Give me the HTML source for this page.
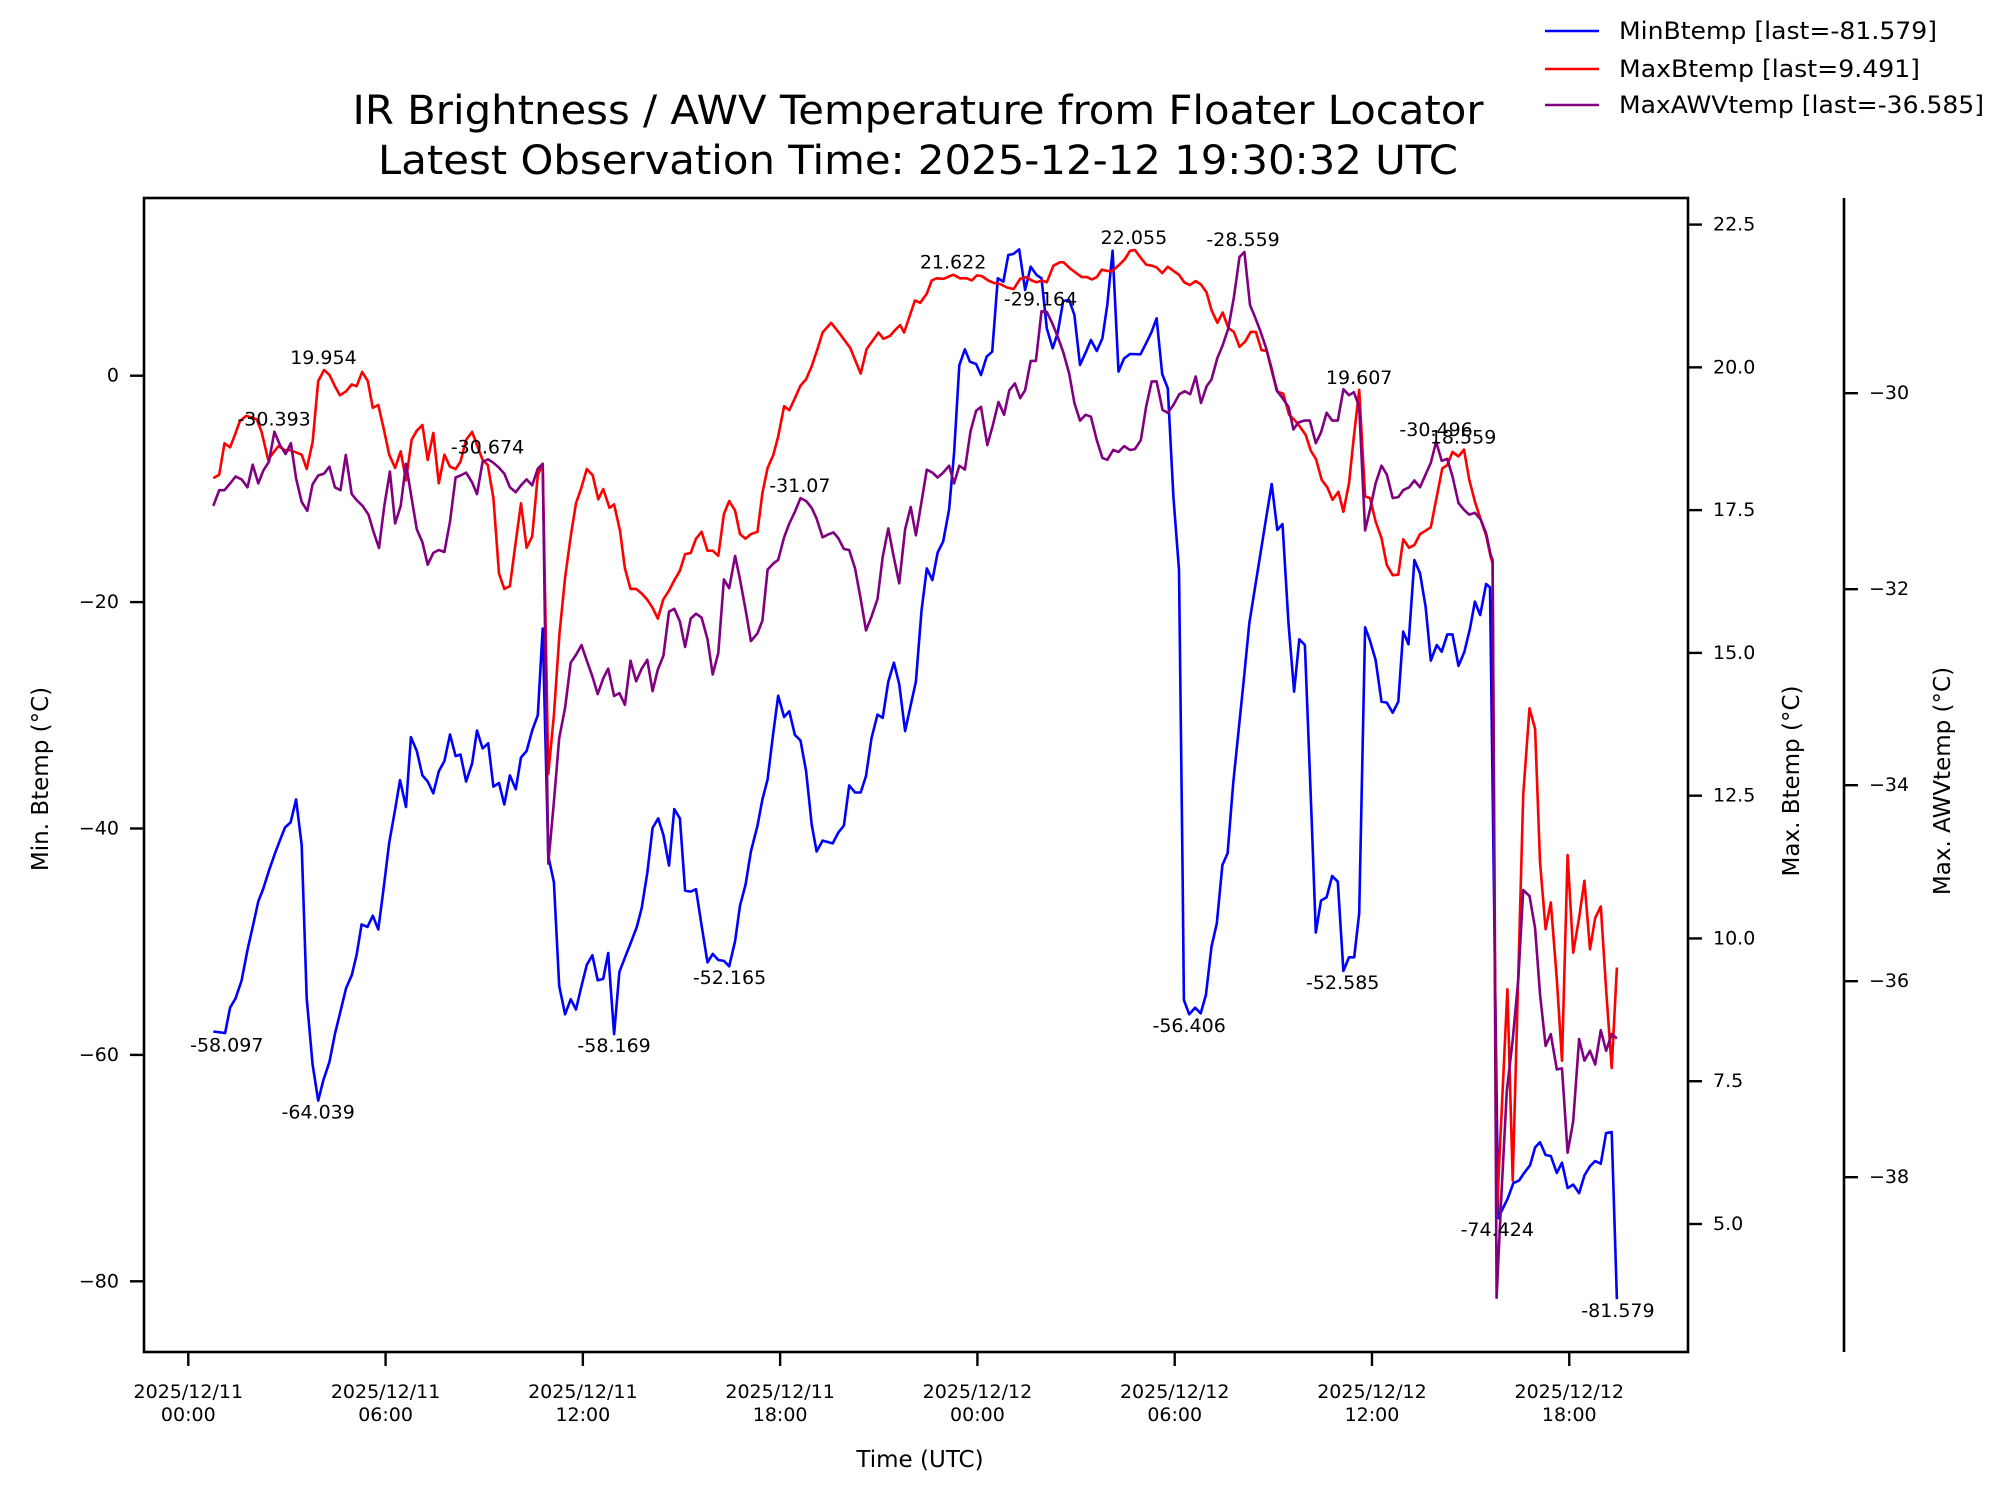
<!DOCTYPE html>
<html><head><meta charset="utf-8"><style>
html,body{margin:0;padding:0;background:#fff;}
svg{display:block;font-family:"DejaVu Sans","Liberation Sans",sans-serif;}
</style></head><body>
<svg id="chart" width="1998" height="1495" viewBox="0 0 1998 1495" xmlns="http://www.w3.org/2000/svg">
<rect x="0" y="0" width="1998" height="1495" fill="#fff"/>
<text x="918" y="124" font-size="40" text-anchor="middle" textLength="1131" lengthAdjust="spacingAndGlyphs">IR Brightness / AWV Temperature from Floater Locator</text>
<text x="918" y="174" font-size="40" text-anchor="middle" textLength="1080" lengthAdjust="spacingAndGlyphs">Latest Observation Time: 2025-12-12 19:30:32 UTC</text>
<g id="plot"></g>
<g id="axes"></g>
<g id="legend"></g>
</svg>
<script>
const minT=[0.76,1.12,1.27,1.44,1.62,1.80,1.96,2.13,2.28,2.45,2.64,2.79,2.94,3.11,3.28,3.45,3.60,3.78,3.95,4.11,4.29,4.46,4.61,4.80,4.97,5.12,5.27,5.45,5.61,5.78,5.95,6.11,6.29,6.44,6.62,6.77,6.95,7.12,7.28,7.45,7.62,7.79,7.96,8.13,8.28,8.45,8.63,8.78,8.95,9.12,9.28,9.45,9.61,9.78,9.96,10.12,10.29,10.46,10.63,10.78,
10.95,11.12,11.28,11.46,11.63,11.79,11.96,12.12,12.29,12.45,12.62,12.77,12.95,13.11,13.28,13.45,13.64,13.79,13.96,14.12,14.29,14.45,14.62,14.78,14.95,15.11,15.28,15.44,15.61,15.79,15.95,16.12,16.29,16.45,16.63,16.78,16.95,17.11,17.31,17.46,17.62,17.79,17.94,18.12,18.28,18.45,18.62,18.79,18.96,19.11,19.29,19.60,19.77,19.94,20.10,20.28,20.45,20.61,20.78,20.96,21.12,21.29,21.46,21.62,21.80,21.97,22.13,22.30,22.46,22.63,22.79,22.96,23.14,23.29,23.45,
23.62,23.77,23.96,24.11,24.28,24.45,24.62,24.79,24.94,25.09,25.27,25.45,25.62,25.80,25.95,26.11,26.29,26.44,26.61,26.79,26.95,27.12,27.29,27.45,27.63,27.80,27.95,28.11,28.29,28.46,
28.64,28.96,29.13,29.30,29.45,29.62,29.79,29.96,30.13,30.24,30.28,30.44,30.62,30.79,30.95,31.12,31.28,31.45,31.61,31.78,32.11,32.27,32.44,32.61,32.78,32.95,33.12,33.28,33.46,33.63,33.79,33.96,34.17,34.29,34.45,34.62,34.79,34.96,35.13,35.30,35.46,35.61,35.79,35.94,36.11,36.29,36.45,36.63,36.80,36.95,37.11,37.29,37.46,37.63,37.79,37.97,38.12,38.29,38.45,38.63,38.81,38.98,39.13,39.29,39.47,39.59,
39.84,40.13,40.30,40.47,40.63,40.81,40.96,41.11,41.28,41.44,41.62,41.78,41.95,42.12,42.30,42.46,42.63,42.79,42.96,43.12,43.29,43.45];
const minV=[-57.93,-58.07,-55.82,-55.00,-53.43,-50.72,-48.69,-46.44,-45.31,-43.74,-42.16,-41.03,-39.91,-39.46,-37.43,-41.48,-55.00,-60.86,-64.04,-62.22,-60.64,-58.16,-56.36,-54.10,-52.98,-51.17,-48.47,-48.69,-47.70,-48.92,-45.09,-41.26,-38.33,-35.72,-38.10,-31.93,-33.15,-35.31,-35.85,-36.89,-34.95,-34.05,-31.70,-33.60,-33.46,-35.85,-34.27,-31.34,-32.92,-32.47,-36.30,-35.98,-37.88,-35.31,-36.53,-33.73,-33.15,-31.34,-29.99,-22.33,
-42.45,-44.74,-53.91,-56.41,-55.08,-55.99,-53.91,-52.04,-51.20,-53.41,-53.29,-51.00,-58.17,-52.66,-51.41,-50.16,-48.70,-47.03,-43.91,-39.95,-39.11,-40.57,-43.28,-38.28,-39.11,-45.49,-45.57,-45.36,-48.58,-51.83,-51.08,-51.62,-51.70,-52.17,-49.95,-46.82,-44.95,-42.03,-39.74,-37.44,-35.65,-31.61,-28.27,-30.15,-29.65,-31.73,-32.23,-34.94,-39.65,-42.03,-41.07,-41.32,-40.36,-39.74,-36.19,-36.82,-36.82,-35.36,-32.02,-29.94,-30.23,-27.02,-25.35,-27.23,-31.40,-29.11,-27.02,-20.77,-17.02,-18.06,-15.64,-14.64,-11.81,-6.80,0.91,
2.33,1.24,1.03,0.06,1.68,2.12,8.60,8.31,10.66,10.75,11.16,7.57,9.63,8.90,8.60,4.18,2.42,3.74,6.60,6.69,5.36,0.95,2.03,3.15,2.18,3.30,6.26,11.04,0.36,1.53,
1.92,1.89,2.86,3.89,5.07,0.15,-1.12,-10.69,-17.16,-43.96,-55.15,-56.41,-55.83,-56.33,-54.71,-50.44,-48.38,-43.22,-42.19,-36.01,-26.59,-21.88,-18.78,-15.69,-12.60,-9.57,-13.63,-13.10,-21.88,-27.91,-23.29,-23.79,-39.54,-49.20,-46.37,-46.08,-44.20,-44.70,-52.59,-51.38,-51.38,-47.49,-22.23,-23.41,-25.11,-28.80,-28.88,-29.77,-28.80,-22.61,-23.73,-16.28,-17.46,-20.40,-25.17,-23.79,-24.38,-22.85,-22.85,-25.64,-24.38,-22.32,-19.96,-21.14,-18.40,-18.70,
-74.42,-72.67,-71.32,-71.10,-70.42,-69.74,-68.17,-67.71,-68.84,-68.93,-70.42,-69.52,-71.77,-71.46,-72.22,-70.65,-69.83,-69.38,-69.61,-66.90,-66.81,-81.579];

const maxT=[0.76,0.94,1.10,1.27,1.42,1.57,1.76,1.93,2.08,2.23,2.43,2.59,2.74,2.94,3.09,3.28,3.45,3.60,3.78,3.95,4.13,4.29,4.46,4.61,4.80,4.97,5.12,5.29,5.46,5.61,5.78,5.95,6.11,6.29,6.46,6.62,6.79,6.95,7.12,7.28,7.45,7.62,7.79,7.96,8.13,8.28,8.45,8.63,8.78,8.95,9.11,9.28,9.45,9.61,9.78,9.96,10.12,10.29,10.46,10.63,10.78,10.95,11.12,11.29,11.46,11.63,11.79,11.96,12.12,12.30,12.47,12.62,12.81,
12.95,13.13,13.28,13.45,13.62,13.79,13.96,14.12,14.28,14.45,14.62,14.78,14.95,15.11,15.28,15.44,15.61,15.79,15.95,16.12,16.29,16.45,16.63,16.78,16.95,17.11,17.31,17.46,17.62,17.79,17.94,18.12,18.28,18.45,18.62,18.79,18.96,19.13,19.29,19.55,19.80,20.13,20.45,20.63,20.99,21.14,21.34,21.49,
21.65,21.77,22.10,22.26,22.46,22.61,22.76,22.97,23.17,23.27,23.47,23.68,23.83,23.98,24.13,24.33,24.49,24.69,24.89,25.10,25.30,25.50,25.65,25.80,25.96,26.11,26.31,26.51,26.62,26.82,27.17,27.33,27.48,27.63,27.78,27.93,28.09,28.34,28.49,
28.64,28.79,28.94,29.13,29.30,29.45,29.62,29.79,29.96,30.13,30.29,30.46,30.64,30.80,30.97,31.12,31.30,31.46,31.63,31.80,31.97,32.14,32.31,32.47,32.64,32.80,32.97,33.13,33.30,33.48,33.64,33.81,33.98,34.14,34.30,34.47,34.64,34.80,34.98,35.13,35.30,35.45,35.61,35.79,35.94,36.11,36.29,36.45,36.63,36.80,36.95,37.13,37.29,37.46,37.63,37.79,37.97,38.14,38.29,38.45,38.63,38.80,38.96,39.13,39.31,39.47,39.61,39.67,
39.79,40.12,40.28,40.60,40.79,40.96,41.11,41.28,41.44,41.62,41.78,41.95,42.12,42.30,42.46,42.63,42.79,42.96,43.12,43.29,43.45];
const maxV=[18.06,18.12,18.67,18.60,18.82,19.06,19.15,19.12,19.09,18.87,18.38,18.51,18.62,18.55,18.55,18.51,18.47,18.22,18.69,19.76,19.954,19.87,19.67,19.51,19.58,19.70,19.67,19.92,19.76,19.29,19.34,18.91,18.47,18.24,18.53,18.02,18.73,18.89,18.99,18.38,18.85,17.97,18.47,18.26,18.22,18.35,18.73,18.87,18.64,18.38,18.29,17.71,16.39,16.12,16.17,16.95,17.62,16.84,17.04,18.11,18.31,12.88,13.91,15.34,16.32,17.04,17.62,17.90,18.22,18.11,17.69,17.87,17.54,
17.60,17.14,16.48,16.12,16.12,16.04,15.93,15.79,15.60,15.94,16.09,16.27,16.44,16.73,16.75,17.00,17.12,16.79,16.79,16.70,17.43,17.66,17.49,17.08,17.00,17.08,17.12,17.80,18.24,18.46,18.79,19.32,19.25,19.46,19.68,19.79,20.02,20.31,20.61,20.78,20.60,20.34,19.89,20.32,20.61,20.50,20.55,20.65,
20.74,20.61,21.17,21.13,21.29,21.52,21.56,21.55,21.60,21.622,21.56,21.56,21.52,21.61,21.60,21.52,21.48,21.46,21.40,21.37,21.55,21.58,21.52,21.49,21.52,21.49,21.78,21.84,21.84,21.73,21.58,21.58,21.54,21.58,21.71,21.69,21.68,21.81,21.90,
22.04,22.055,21.94,21.80,21.78,21.75,21.65,21.76,21.69,21.62,21.49,21.44,21.51,21.45,21.31,21.00,20.78,20.96,20.69,20.62,20.36,20.45,20.62,20.62,20.30,20.29,19.89,19.57,19.54,19.17,19.08,18.96,18.82,18.54,18.39,18.03,17.90,17.68,17.82,17.47,17.97,18.79,19.607,17.74,17.71,17.30,17.01,16.54,16.36,16.37,16.99,16.84,16.89,17.08,17.14,17.20,17.74,18.23,18.29,18.52,18.44,18.559,18.03,17.65,17.33,17.06,16.68,16.57,
5.09,9.11,5.76,12.51,14.03,13.67,11.34,10.16,10.63,9.29,7.86,11.46,9.75,10.36,11.01,9.81,10.36,10.56,9.11,7.73,9.491];

const awvT=[0.76,0.94,1.10,1.27,1.44,1.62,1.80,1.96,2.13,2.28,2.45,2.62,2.79,2.96,3.12,3.28,3.45,3.62,3.78,3.95,4.13,4.29,4.46,4.63,4.79,4.97,5.12,5.30,5.48,5.63,5.80,5.96,6.13,6.29,6.46,6.62,6.79,6.95,7.12,7.28,7.45,7.62,7.79,7.96,8.13,8.28,8.45,8.63,8.78,8.95,9.12,9.28,9.45,9.61,9.78,9.96,10.12,10.29,10.46,10.63,10.78,
10.95,11.12,11.28,11.46,11.63,11.79,11.96,12.12,12.29,12.45,12.62,12.77,12.95,13.11,13.28,13.45,13.62,13.79,13.96,14.12,14.28,14.45,14.62,14.78,14.95,15.11,15.28,15.44,15.61,15.79,15.95,16.12,16.29,16.45,16.63,16.78,16.95,17.11,17.31,17.46,17.62,17.79,17.94,18.12,18.28,18.45,18.62,18.79,18.96,19.11,19.29,19.47,19.62,19.77,19.94,20.10,20.28,20.45,20.61,20.78,20.96,21.12,21.29,21.46,21.62,21.80,21.97,22.13,22.30,22.46,22.63,22.79,22.96,23.14,23.29,23.45,23.62,23.79,23.96,24.11,
24.30,24.46,24.64,24.81,24.97,25.14,25.30,25.45,25.62,25.78,25.95,26.11,26.28,26.44,26.61,26.79,26.95,27.12,27.29,27.45,27.63,27.80,27.95,28.13,28.29,28.46,28.64,28.79,28.97,29.13,29.30,29.45,29.63,29.79,29.96,30.14,30.31,30.47,30.64,30.80,30.97,31.12,31.30,31.46,31.63,31.80,31.97,32.12,32.29,32.44,32.61,32.78,32.95,33.10,33.28,33.46,
33.61,33.76,33.93,34.11,34.29,34.45,34.62,34.79,34.96,35.13,35.30,35.45,35.61,35.79,35.94,36.11,36.29,36.45,36.63,36.80,36.95,37.13,37.29,37.46,37.63,37.79,37.95,38.12,38.29,38.45,38.63,38.80,38.96,39.13,39.31,39.47,39.61,39.67,
39.79,39.94,40.10,40.28,40.45,40.60,40.79,40.96,41.11,41.28,41.44,41.62,41.78,41.95,42.12,42.30,42.46,42.63,42.79,42.96,43.12,43.29,43.45];
const awvV=[-31.15,-30.99,-30.99,-30.92,-30.85,-30.88,-30.96,-30.73,-30.92,-30.79,-30.70,-30.393,-30.53,-30.62,-30.51,-30.87,-31.11,-31.20,-30.93,-30.84,-30.82,-30.75,-30.96,-30.99,-30.63,-31.03,-31.09,-31.15,-31.24,-31.41,-31.58,-31.15,-30.80,-31.33,-31.15,-30.72,-31.07,-31.39,-31.52,-31.75,-31.63,-31.60,-31.62,-31.31,-30.86,-30.84,-30.81,-30.91,-31.03,-30.70,-30.674,-30.71,-30.76,-30.82,-30.96,-31.01,-30.94,-30.88,-30.94,-30.77,-30.72,
-34.80,-34.17,-33.52,-33.21,-32.75,-32.67,-32.57,-32.73,-32.89,-33.07,-32.91,-32.81,-33.09,-33.06,-33.18,-32.73,-32.94,-32.81,-32.72,-33.04,-32.82,-32.68,-32.23,-32.20,-32.33,-32.59,-32.30,-32.25,-32.29,-32.51,-32.87,-32.65,-31.90,-31.99,-31.66,-31.90,-32.21,-32.53,-32.45,-32.32,-31.80,-31.74,-31.70,-31.47,-31.33,-31.21,-31.07,-31.10,-31.17,-31.28,-31.47,-31.44,-31.42,-31.48,-31.59,-31.60,-31.79,-32.10,-32.42,-32.28,-32.10,-31.67,-31.38,-31.68,-31.94,-31.39,-31.16,-31.45,-31.11,-30.78,-30.81,-30.86,-30.81,-30.74,-30.92,-30.74,-30.78,-30.39,-30.18,-30.14,
-30.53,-30.34,-30.09,-30.22,-29.97,-29.90,-30.05,-29.97,-29.67,-29.67,-29.164,-29.17,-29.29,-29.42,-29.58,-29.80,-30.10,-30.28,-30.22,-30.24,-30.48,-30.66,-30.68,-30.58,-30.60,-30.54,-30.58,-30.57,-30.48,-30.14,-29.88,-29.88,-30.17,-30.20,-30.12,-30.01,-29.98,-30.01,-29.83,-30.10,-29.93,-29.86,-29.64,-29.51,-29.34,-29.02,-28.61,-28.559,-29.10,-29.22,-29.37,-29.54,-29.75,-29.97,-30.05,-30.14,
-30.37,-30.30,-30.28,-30.28,-30.51,-30.40,-30.20,-30.28,-30.28,-29.96,-30.02,-29.99,-30.14,-31.40,-31.19,-30.92,-30.74,-30.83,-31.07,-31.06,-30.99,-30.96,-30.89,-30.96,-30.83,-30.71,-30.496,-30.69,-30.67,-30.85,-31.12,-31.19,-31.24,-31.22,-31.29,-31.43,-31.65,-31.70,
-39.23,-38.16,-37.12,-36.60,-35.98,-35.07,-35.13,-35.46,-36.13,-36.66,-36.54,-36.90,-36.89,-37.75,-37.43,-36.59,-36.81,-36.71,-36.85,-36.50,-36.71,-36.54,-36.585];

const xTicks=[0,6,12,18,24,30,36,42];
const xTickDates=["2025/12/11","2025/12/11","2025/12/11","2025/12/11","2025/12/12","2025/12/12","2025/12/12","2025/12/12"];
const xTickTimes=["00:00","06:00","12:00","18:00","00:00","06:00","12:00","18:00"];
const minTicks=[0,-20,-40,-60,-80];
const maxTicks=[5.0,7.5,10.0,12.5,15.0,17.5,20.0,22.5];
const awvTicks=[-30,-32,-34,-36,-38];
const annH=[1.17,3.95,4.11,2.61,9.10,12.95,16.46,18.60,23.26,25.92,28.76,32.08,30.44,35.61,35.11,37.95,38.77,39.81,43.48];
const annV=[-58.097,-64.039,19.954,-30.393,-30.674,-58.169,-52.165,-31.07,21.622,-29.164,22.055,-28.559,-56.406,19.607,-52.585,-30.496,18.559,-74.424,-81.579];
const annS=["min","min","max","awv","awv","min","min","awv","max","awv","max","awv","min","max","min","awv","max","min","min"];

const L=144,R=1688,T=198,B=1352,AX3=1844;
const X=h=>188.3+h*32.88;
const Ymin=v=>375.7-v*11.32;
const Ymax=v=>1224-(v-5)*57.11;
const Yawv=v=>393.2-(v+30)*98;
const NS="http://www.w3.org/2000/svg";
function mk(tag,attrs,parent,txt){const e=document.createElementNS(NS,tag);for(const k in attrs)e.setAttribute(k,attrs[k]);if(txt!==undefined)e.textContent=txt;parent.appendChild(e);return e;}
const plot=document.getElementById('plot'),axes=document.getElementById('axes'),leg=document.getElementById('legend');
function series(ts,vs,yf,color,name){let d='';for(let i=0;i<ts.length;i++){d+=(i?'L':'M')+X(ts[i]).toFixed(1)+' '+yf(vs[i]).toFixed(1);}
const p=mk('path',{d:d,fill:'none',stroke:color,'stroke-width':2.6,'stroke-linejoin':'round'},plot);

}
series(minT,minV,Ymin,'#0000ff','min-btemp-line');
series(maxT,maxV,Ymax,'#ff0000','max-btemp-line');
series(awvT,awvV,Yawv,'#800080','max-awv-temp-line');
for(let i=0;i<annH.length;i++){const yf=annS[i]==='min'?Ymin:(annS[i]==='max'?Ymax:Yawv);const dy=annS[i]==='min'?12:-12;
const t=mk('text',{x:X(annH[i]),y:yf(annV[i])+dy,'font-size':19,'text-anchor':'middle','dominant-baseline':'central'},plot,String(annV[i]));

}
const box=mk('rect',{x:L,y:T,width:R-L,height:B-T,fill:'none',stroke:'#000','stroke-width':2.6},axes);


const sp3=mk('line',{x1:AX3,y1:T,x2:AX3,y2:B,stroke:'#000','stroke-width':2.6},axes);


for(let i=0;i<xTicks.length;i++){const x=X(xTicks[i]);
mk('line',{x1:x,y1:B,x2:x,y2:B+14,stroke:'#000','stroke-width':2.4},axes);
const t=mk('text',{x:x,y:1398,'font-size':19,'text-anchor':'middle'},axes,xTickDates[i]);


const t2=mk('text',{x:x,y:1421,'font-size':19,'text-anchor':'middle'},axes,xTickTimes[i]);

}
for(const v of minTicks){const y=Ymin(v);mk('line',{x1:L-14,y1:y,x2:L,y2:y,stroke:'#000','stroke-width':2.4},axes);
const t=mk('text',{x:L-25,y:y,'font-size':19,'text-anchor':'end','dominant-baseline':'central'},axes,v<0?'\u2212'+Math.abs(v):String(v));

}
for(const v of maxTicks){const y=Ymax(v);mk('line',{x1:R,y1:y,x2:R+14,y2:y,stroke:'#000','stroke-width':2.4},axes);
const t=mk('text',{x:R+25,y:y,'font-size':19,'dominant-baseline':'central'},axes,v.toFixed(1));

}
for(const v of awvTicks){const y=Yawv(v);mk('line',{x1:AX3,y1:y,x2:AX3+14,y2:y,stroke:'#000','stroke-width':2.4},axes);
const t=mk('text',{x:AX3+25,y:y,'font-size':19,'dominant-baseline':'central'},axes,'\u2212'+Math.abs(v));

}
const xl=mk('text',{x:920,y:1467,'font-size':23,'text-anchor':'middle'},axes,'Time (UTC)');


const yl=mk('text',{x:0,y:0,'font-size':23,'text-anchor':'middle',transform:'translate(48,779) rotate(-90)'},axes,'Min. Btemp (\u00B0C)');


const yr=mk('text',{x:0,y:0,'font-size':23,'text-anchor':'middle',transform:'translate(1799,781) rotate(-90)'},axes,'Max. Btemp (\u00B0C)');


const y3=mk('text',{x:0,y:0,'font-size':23,'text-anchor':'middle',transform:'translate(1950,781) rotate(-90)'},axes,'Max. AWVtemp (\u00B0C)');


const legNames=['MinBtemp','MaxBtemp','MaxAWVtemp'];
const legColors=['#0000ff','#ff0000','#800080'];
const legLast=[minV[minV.length-1],maxV[maxV.length-1],awvV[awvV.length-1]];
const legY=[31,69,105];
const legLen=[318,301,365];
for(let i=0;i<3;i++){const ln=mk('line',{x1:1545,y1:legY[i],x2:1599,y2:legY[i],stroke:legColors[i],'stroke-width':2.6},leg);


const t=mk('text',{x:1619,y:legY[i],'font-size':24,'dominant-baseline':'central',textLength:legLen[i],lengthAdjust:'spacingAndGlyphs'},leg,legNames[i]+' [last='+legLast[i]+']');

}
</script>
</body></html>
